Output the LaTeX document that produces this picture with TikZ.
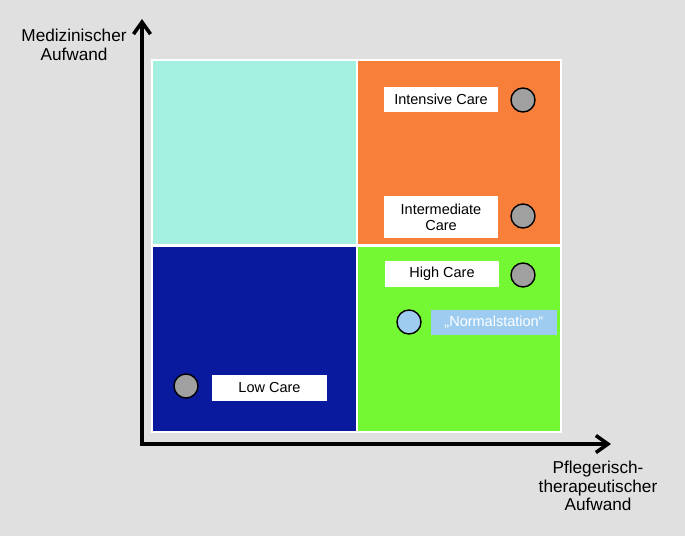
\documentclass[tikz,border=0pt]{standalone}
\usepackage{fontspec}
\setmainfont{Liberation Sans}
\usetikzlibrary{arrows.meta}
\definecolor{bgc}{RGB}{224,224,224}
\definecolor{cyanq}{RGB}{164,240,224}
\definecolor{orangeq}{RGB}{247,127,58}
\definecolor{blueq}{RGB}{10,26,158}
\definecolor{greenq}{RGB}{117,248,52}
\definecolor{grayc}{RGB}{160,160,160}
\definecolor{lblue}{RGB}{158,204,240}
\tikzset{
  labelbox/.style={fill=white, inner sep=0pt, align=center, font=\fontsize{14.5}{16}\selectfont},
  dot/.style={circle, draw=black, line width=1.4pt, fill=grayc, minimum size=24pt, inner sep=0pt},
  axislabel/.style={align=center, font=\fontsize{17.2}{18.8}\selectfont},
  axis/.style={line width=3.6pt, line join=miter}
}
\begin{document}
\begin{tikzpicture}[x=1pt,y=-1pt]
\fill[bgc] (0,0) rectangle (685,536);
\useasboundingbox (0,0) rectangle (685,536);
% white frame and quadrants
\fill[white] (151,59) rectangle (562,433);
\fill[cyanq] (153,61) rectangle (356,244);
\fill[orangeq] (358,61) rectangle (560,244);
\fill[blueq] (153,247) rectangle (356,431);
\fill[greenq] (358,247) rectangle (560,431);
% axes
\coordinate (O) at (142,444);
\coordinate (ytop) at (142,19);
\coordinate (xend) at (611,444);
\draw[axis, {Straight Barb[length=12pt,width=17pt]}-{Straight Barb[length=12pt,width=17pt]}] (ytop) -- (O) -- (xend);
\node[axislabel] (ylab) at (74,45) {Medizinischer\\Aufwand};
\node[axislabel] (xlab) at (598,486) {Pflegerisch-\\therapeutischer\\Aufwand};
% labels
\node[labelbox, minimum width=114pt, minimum height=25pt] (ic) at (441,99.5) {Intensive Care};
\node[labelbox, minimum width=114pt, minimum height=42pt] (imc) at (441,217) {Intermediate\\Care};
\node[labelbox, minimum width=114pt, minimum height=26pt] (hc) at (442,274) {High Care};
\node[labelbox, fill=lblue, text=white, minimum width=126pt, minimum height=25pt] (ns) at (494,322.5) {„Normalstation“};
\node[labelbox, minimum width=115pt, minimum height=26pt] (lc) at (269.5,388) {Low Care};
% dots
\node[dot] (d1) at (523,100) {};
\node[dot] (d2) at (523,216) {};
\node[dot] (d3) at (523,275) {};
\node[dot, fill=lblue] (d4) at (409,322) {};
\node[dot] (d5) at (186,386) {};
\end{tikzpicture}
\end{document}
